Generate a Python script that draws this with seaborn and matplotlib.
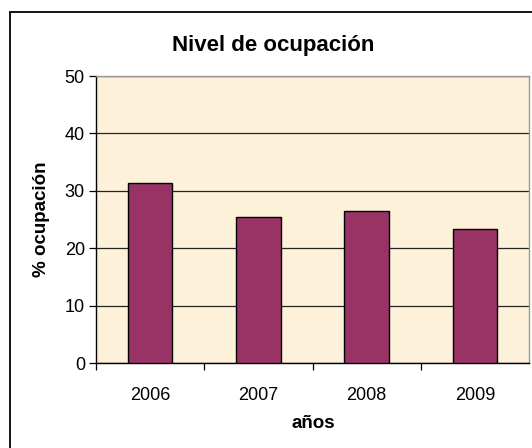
import numpy as np
import pandas as pd
import matplotlib
matplotlib.use("Agg")
import matplotlib.pyplot as plt
import matplotlib.patches as mpatches
import seaborn as sns

# data
years = ["2006", "2007", "2008", "2009"]
ocupacion = [31.3, 25.5, 26.5, 23.4]
yticks = [0, 10, 20, 30, 40, 50]

df = pd.DataFrame({"anio": years, "ocupacion": ocupacion})

sns.set_style("white")
plt.rcParams['font.family'] = ['Liberation Sans', 'DejaVu Sans']
plt.rcParams['text.color'] = 'black'
plt.rcParams['xtick.color'] = 'black'
plt.rcParams['ytick.color'] = 'black'

fig = plt.figure(figsize=(5.32, 4.48), dpi=100)
W, H = 532, 448
ax = fig.add_axes([96 / W, 1 - 363 / H, (529 - 96) / W, (363 - 76) / H])
ax.set_facecolor("#FDF1DA")

sns.barplot(data=df, x="anio", y="ocupacion", color="#993366", width=0.41,
            edgecolor="black", linewidth=1.0, saturation=1, ax=ax, zorder=3)

ax.set_ylim(0, 50)
ax.set_xlim(-0.5, len(years) - 0.5)
ax.set_yticks(yticks)
ax.yaxis.grid(True, color="#222222", linewidth=0.9, zorder=1)
ax.set_axisbelow(True)

# ticks between categories
ax.set_xticks(np.arange(len(years)) - 0.5, minor=True)
ax.tick_params(axis="x", which="major", length=0, pad=17, labelsize=13)
ax.tick_params(axis="x", which="minor", length=5, width=0.9, color="black", direction="out")
ax.tick_params(axis="y", length=5, width=0.9, color="black", direction="out", labelsize=13, pad=3)
ax.tick_params(bottom=True, left=True, which="both")

for side in ["top", "right"]:
    ax.spines[side].set_color("#999999")
    ax.spines[side].set_linewidth(1.0)
for side in ["left", "bottom"]:
    ax.spines[side].set_color("black")
    ax.spines[side].set_linewidth(1.0)

ax.set_xlabel("")
ax.set_ylabel("")

fig.text(273 / W, 1 - 46 / H, "Nivel de ocupación", ha="center", va="center",
         fontsize=16, fontweight="bold")
fig.text(313 / W, 1 - 423 / H, "años", ha="center", va="center",
         fontsize=13.5, fontweight="bold")
fig.text(42 / W, 1 - 219 / H, "% ocupación", ha="center", va="center",
         fontsize=13.5, fontweight="bold", rotation=90)

# outer chart frame
frame = mpatches.Rectangle((10 / W, -0.1), 1.2, 1 - 12 / H + 0.1,
                           transform=fig.transFigure, fill=False,
                           edgecolor="black", linewidth=1.3)
fig.patches.append(frame)

fig.savefig("out.png", dpi=100)
